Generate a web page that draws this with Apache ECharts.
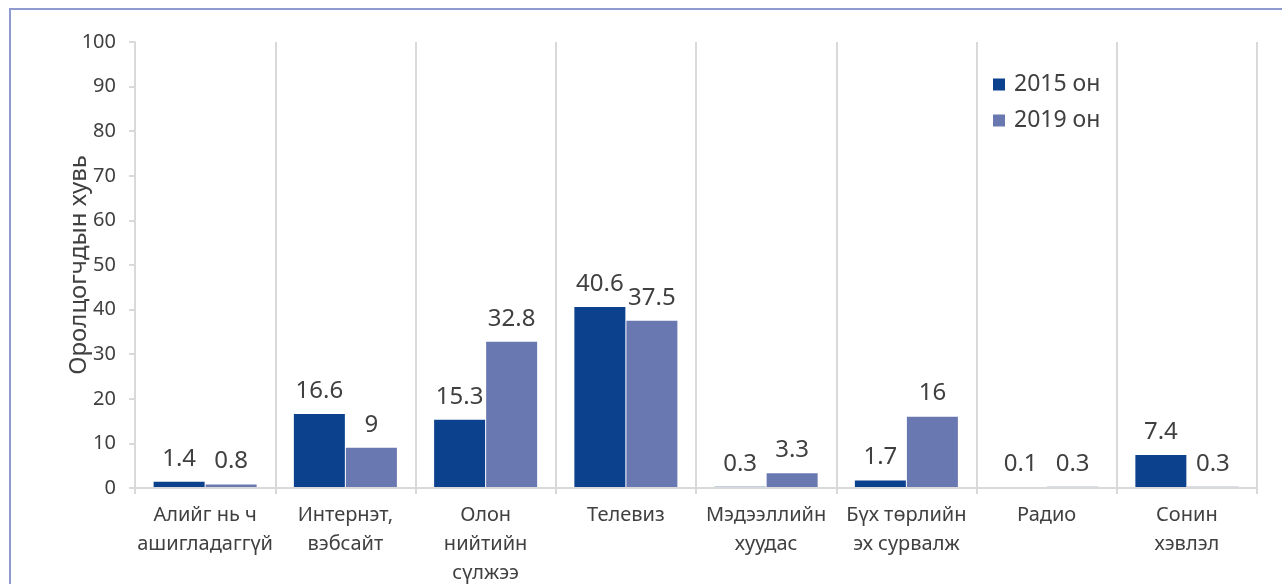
<!DOCTYPE html>
<html>
<head>
<meta charset="utf-8">
<script src="https://cdn.jsdelivr.net/npm/echarts@6/dist/echarts.min.js"></script>
<style>
  html, body { margin: 0; padding: 0; background: #fff; }
  #chart { width: 1282px; height: 584px; }
</style>
</head>
<body>
<div id="chart"></div>
<script>
const categories = [
  'Алийг нь ч\nашигладаггүй',
  'Интернэт,\nвэбсайт',
  'Олон\nнийтийн\nсүлжээ',
  'Телевиз',
  'Мэдээллийн\nхуудас',
  'Бүх төрлийн\nэх сурвалж',
  'Радио',
  'Сонин\nхэвлэл',
]
const values2015 = [1.4, 16.6, 15.3, 40.6, 0.3, 1.7, 0.1, 7.4]
const values2019 = [0.8, 9, 32.8, 37.5, 3.3, 16, 0.3, 0.3]
const seriesNames = ['2015 он', '2019 он']

const textColor = '#404040'
const lineColor = '#d9d9d9'
const font = 'Noto Sans'

const labelStyle = {
  show: true,
  position: 'top',
  distance: 11,
  color: textColor,
  fontSize: 24,
  fontFamily: font,
}

const chart = echarts.init(document.getElementById('chart'))
chart.setOption({
  animation: false,
  textStyle: { fontFamily: font },
  graphic: [
    {
      type: 'rect',
      shape: { x: 10, y: 9, width: 1300, height: 620 },
      style: { fill: 'none', stroke: '#8e9ad0', lineWidth: 2 },
      silent: true,
    },
  ],
  grid: { left: 135, right: 25, top: 42, bottom: 96, outerBoundsMode: 'none' },
  legend: {
    orient: 'vertical',
    left: 988,
    top: 66,
    icon: 'rect',
    itemWidth: 12,
    itemHeight: 12,
    itemGap: 9,
    textStyle: {
      color: textColor,
      fontSize: 23,
      fontFamily: font,
      lineHeight: 27,
      padding: [0, 0, 0, 4],
    },
    data: seriesNames,
  },
  xAxis: {
    type: 'category',
    data: categories,
    z: 5,
    axisLine: { lineStyle: { color: lineColor, width: 2 } },
    axisTick: { show: true, length: 6, lineStyle: { color: lineColor, width: 2 } },
    splitLine: { show: true, lineStyle: { color: lineColor, width: 2 } },
    axisLabel: {
      interval: 0,
      color: textColor,
      fontSize: 20,
      lineHeight: 29,
      margin: 13,
      fontFamily: font,
    },
  },
  yAxis: {
    type: 'value',
    min: 0,
    max: 100,
    interval: 10,
    name: 'Оролцогчдын хувь',
    nameLocation: 'middle',
    nameGap: 44,
    nameMoveOverlap: false,
    nameTextStyle: { color: textColor, fontSize: 24, fontFamily: font },
    axisLine: { show: true, lineStyle: { color: lineColor, width: 2 } },
    axisTick: { show: true, length: 6, lineStyle: { color: lineColor, width: 2 } },
    splitLine: { show: false },
    axisLabel: { color: textColor, fontSize: 20, margin: 19, fontFamily: font },
  },
  series: [
    {
      name: seriesNames[0],
      type: 'bar',
      data: values2015,
      barWidth: 51,
      barGap: '2%',
      itemStyle: { color: '#0c418e' },
      label: labelStyle,
    },
    {
      name: seriesNames[1],
      type: 'bar',
      data: values2019,
      barWidth: 51,
      itemStyle: { color: '#6a78b2' },
      label: labelStyle,
    },
  ],
})
</script>
</body>
</html>
